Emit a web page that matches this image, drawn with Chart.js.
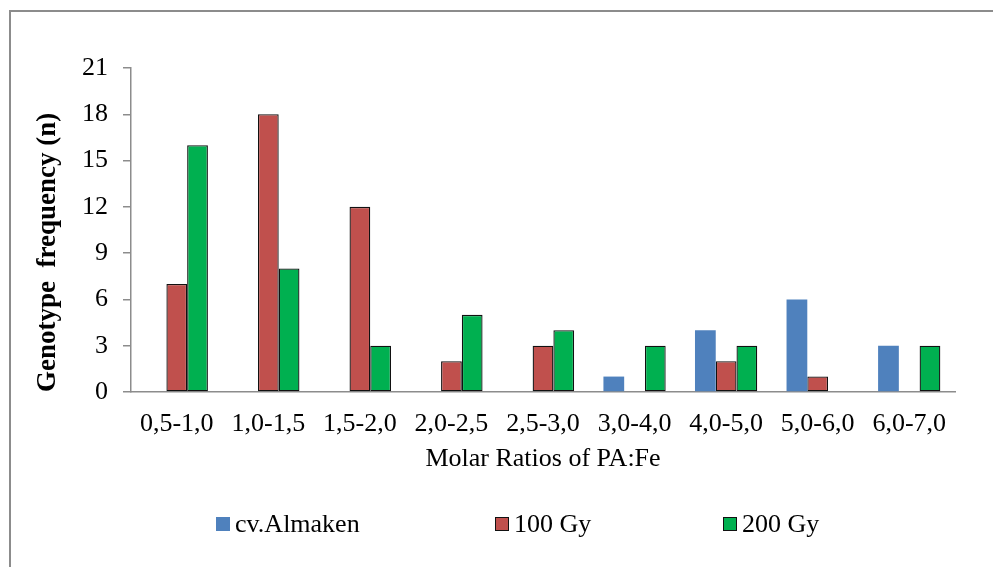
<!DOCTYPE html>
<html>
<head>
<meta charset="utf-8">
<script src="https://cdn.jsdelivr.net/npm/chart.js@4.4.1/dist/chart.umd.min.js"></script>
<style>
	html, body { margin: 0; padding: 0; background: #fff; }
	body { width: 993px; height: 567px; position: relative; overflow: hidden; font-family: "Liberation Serif", "Times New Roman", serif; }
	.frame { position: absolute; left: 9px; top: 10px; right: -10px; bottom: -10px; border-top: 2px solid #8c8c8c; border-left: 2px solid #8c8c8c; }
	.chart-wrap { position: absolute; left: 0; top: 0; width: 993px; height: 567px; }
	.legend-item { position: absolute; top: 509px; height: 30px; display: flex; align-items: center; font-size: 26px; line-height: 30px; color: #000; }
	.legend-box { width: 14px; height: 14px; margin-right: 5px; box-sizing: border-box; }
</style>
</head>
<body>
<div class="frame"></div>
<div class="chart-wrap"><canvas id="chart-pa-fe"></canvas></div>
<div id="legend"></div>
<script>
// Chart data
const CATEGORIES = ["0,5-1,0", "1,0-1,5", "1,5-2,0", "2,0-2,5", "2,5-3,0", "3,0-4,0", "4,0-5,0", "5,0-6,0", "6,0-7,0"];
const ALMAKEN = [0, 0, 0, 0, 0, 1, 4, 6, 3];
const GY_100 = [7, 18, 12, 2, 3, 0, 2, 1, 0];
const GY_200 = [16, 8, 3, 5, 4, 3, 3, 0, 3];
const SERIES_LABELS = ["cv.Almaken", "100 Gy", "200 Gy"];
const Y_TICKS = [0, 3, 6, 9, 12, 15, 18, 21];

const COLORS = {
	BLUE: "#4F81BD",
	RED: "#C0504D",
	GREEN: "#00B050",
	EDGE: "#111111",
	AXIS: "#8c8c8c",
};
const FONT_FAMILY = "'Liberation Serif', 'Times New Roman', serif";

Chart.defaults.font.family = FONT_FAMILY;
Chart.defaults.color = "#000";

const CHART_WRAPPER = document.getElementById("chart-pa-fe");

const barStyle = (color, withEdge) => ({
	backgroundColor: color,
	borderColor: withEdge ? COLORS.EDGE : color,
	borderWidth: withEdge ? 1.3 : 0,
	borderSkipped: false,
	categoryPercentage: 0.68,
	barPercentage: 1,
});

const CHART_DATA = {
	labels: CATEGORIES,
	datasets: [
		{ label: SERIES_LABELS[0], data: ALMAKEN, ...barStyle(COLORS.BLUE, false) },
		{ label: SERIES_LABELS[1], data: GY_100, ...barStyle(COLORS.RED, true) },
		{ label: SERIES_LABELS[2], data: GY_200, ...barStyle(COLORS.GREEN, true) },
	],
};

const CHART_CONFIG = {
	type: "bar",
	data: CHART_DATA,
	options: {
		responsive: true,
		maintainAspectRatio: false,
		animation: false,
		layout: {
			padding: { left: 17, right: 38, top: 68, bottom: 75 },
		},
		scales: {
			x: {
				border: { display: true, color: COLORS.AXIS, width: 1.5 },
				grid: { display: false, drawTicks: false },
				ticks: {
					font: { size: 26 },
					color: "#000",
					padding: 17,
					maxRotation: 0,
					autoSkip: false,
				},
				title: {
					display: true,
					text: "Molar Ratios of PA:Fe",
					font: { size: 26 },
					color: "#000",
					padding: { top: 0, bottom: 17 },
				},
				afterFit: (scale) => {
					scale.height = 100;
				},
			},
			y: {
				min: 0,
				max: 21,
				border: { display: true, color: COLORS.AXIS, width: 1.5 },
				grid: {
					drawOnChartArea: false,
					drawTicks: true,
					tickLength: 8,
					color: COLORS.AXIS,
					lineWidth: 1.5,
				},
				afterBuildTicks: (scale) => {
					scale.ticks = Y_TICKS.map((v) => ({ value: v }));
				},
				ticks: {
					font: { size: 26 },
					color: "#000",
					padding: 15,
				},
				title: {
					display: true,
					text: "Genotype  frequency (n)",
					align: "start",
					font: { size: 27, weight: "bold" },
					color: "#000",
					padding: { top: 15, bottom: 0 },
				},
				afterFit: (scale) => {
					scale.width = 114;
				},
			},
		},
		plugins: {
			legend: { display: false },
			tooltip: { enabled: false },
		},
	},
};

if (CHART_WRAPPER) {
	new Chart(CHART_WRAPPER, CHART_CONFIG);
}

// Legend, laid out like the original (wide spacing between entries)
const LEGEND_LEFT = [216, 495, 723];
const LEGEND_EDGE = [false, true, true];
const legendEl = document.getElementById("legend");
CHART_DATA.datasets.forEach((ds, i) => {
	const item = document.createElement("div");
	item.className = "legend-item";
	item.style.left = LEGEND_LEFT[i] + "px";
	const box = document.createElement("span");
	box.className = "legend-box";
	box.style.background = ds.backgroundColor;
	if (LEGEND_EDGE[i]) box.style.border = "1px solid " + COLORS.EDGE;
	const text = document.createElement("span");
	text.textContent = ds.label;
	item.appendChild(box);
	item.appendChild(text);
	legendEl.appendChild(item);
});
</script>
</body>
</html>
